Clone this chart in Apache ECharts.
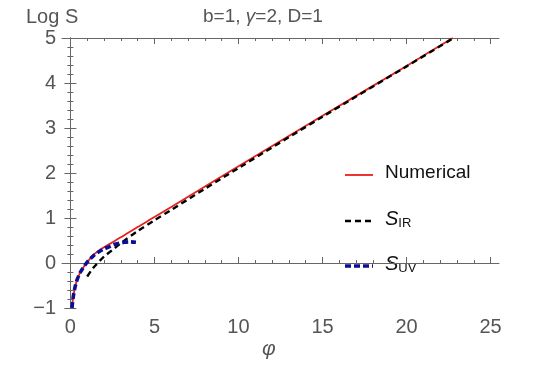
<!DOCTYPE html>
<html>
<head>
<meta charset="utf-8">
<script src="https://cdn.jsdelivr.net/npm/echarts@6/dist/echarts.min.js"></script>
<style>
  html, body { margin: 0; padding: 0; background: #fff; }
  #chart { width: 540px; height: 373px; }
</style>
</head>
<body>
<div id="chart"></div>
<script>
// values
const numerical = [
  [0.095, -1], [0.12, -0.9], [0.15, -0.8], [0.2, -0.68], [0.25, -0.58], [0.3, -0.5],
  [0.4, -0.37], [0.5, -0.28], [0.6, -0.2], [0.75, -0.11], [0.9, -0.03], [1.0, 0.02],
  [1.2, 0.11], [1.4, 0.19], [1.7, 0.28], [2.0, 0.35], [2.5, 0.46], [3, 0.57],
  [4, 0.8], [5, 1.02], [7, 1.47], [10, 2.15], [15, 3.27], [20, 4.38], [22.75, 5.0]
];
const sIR = [
  [1.0, -0.3], [1.25, -0.16], [1.5, -0.05], [2.0, 0.14], [2.5, 0.29], [3, 0.44],
  [4, 0.71], [5, 0.95], [6, 1.18], [8, 1.65], [10, 2.11], [15, 3.25], [20, 4.37], [22.8, 5.0]
];
const sUV = [
  [0.095, -1], [0.12, -0.9], [0.15, -0.8], [0.2, -0.68], [0.25, -0.58], [0.3, -0.5],
  [0.4, -0.37], [0.5, -0.28], [0.6, -0.2], [0.75, -0.11], [0.9, -0.03], [1.0, 0.02],
  [1.2, 0.1], [1.4, 0.17], [1.7, 0.25], [2.0, 0.31], [2.3, 0.36], [2.6, 0.41],
  [2.9, 0.44], [3.2, 0.46], [3.5, 0.47], [3.9, 0.46]
];
const xMajor = [0, 5, 10, 15, 20, 25];
const xMinor = [0, 1, 2, 3, 4, 5, 6, 7, 8, 9, 10, 11, 12, 13, 14, 15, 16, 17, 18, 19, 20, 21, 22, 23, 24, 25];

const frame = '#666';
const labelColor = '#555';
const font = 'Liberation Sans';
const red = '#e8201c', black = '#000', blue = '#0a0f96';

function xAx(pos, major, withLabels) {
  return {
    type: 'value', position: pos, min: -0.5, max: 25.5,
    axisLine: { show: major, lineStyle: { color: frame, width: 1 } },
    axisTick: { show: true, inside: true, length: major ? 6 : 3, customValues: major ? xMajor : xMinor,
      lineStyle: { color: frame } },
    axisLabel: withLabels
      ? { show: true, customValues: xMajor, fontSize: 20, color: labelColor, margin: 9, fontFamily: font }
      : { show: false },
    splitLine: { show: false }
  };
}

function yAx(pos, withLabels) {
  return {
    type: 'value', position: pos, min: -1, max: 5, interval: 1,
    axisLine: { show: true, lineStyle: { color: frame, width: 1 } },
    axisTick: { show: true, inside: true, length: 6, lineStyle: { color: frame } },
    minorTick: { show: true, splitNumber: 5, length: 3, lineStyle: { color: frame } },
    axisLabel: withLabels
      ? { show: true, fontSize: 20, color: labelColor, margin: 6, fontFamily: font,
          formatter: v => (v < 0 ? '\u2212' + Math.abs(v) : String(v)) }
      : { show: false },
    splitLine: { show: false }
  };
}

// legend drawn by hand: short line sample + label
function legendRow(y, color, width, dash, label) {
  return [
    { type: 'line', shape: { x1: 345, y1: y, x2: 373, y2: y },
      style: { stroke: color, lineWidth: width, lineDash: dash } },
    { type: 'text', left: 385, top: y - 12,
      style: { text: label, fontSize: 19, fill: '#111', fontFamily: font,
        rich: {
          s: { fontSize: 20, fontStyle: 'italic', fill: '#111', fontFamily: font },
          sub: { fontSize: 13, fill: '#111', fontFamily: font, padding: [9, 0, 0, 0] }
        } } }
  ];
}

const chart = echarts.init(document.getElementById('chart'), null, { renderer: 'canvas' });
chart.setOption({
  backgroundColor: '#fff',
  animation: false,
  grid: { left: 62, right: 41, top: 38, bottom: 65 },
  title: [
    { text: 'Log S', left: 21, top: 2,
      textStyle: { fontSize: 20, fontWeight: 'normal', color: labelColor, fontFamily: font } },
    { text: 'b=1, {g|γ}=2, D=1', left: 198, top: 2,
      textStyle: { fontSize: 19, fontWeight: 'normal', color: labelColor, fontFamily: font,
        rich: { g: { fontSize: 19, fontStyle: 'italic', color: labelColor, fontFamily: font } } } }
  ],
  graphic: [
    { type: 'text', left: 262, top: 339,
      style: { text: 'φ', fontSize: 21, fontStyle: 'italic', fill: labelColor, fontFamily: font } },
    ...legendRow(175, red, 1.8, null, 'Numerical'),
    ...legendRow(221, black, 2.4, [6, 4], '{s|S}{sub|IR}'),
    ...legendRow(266, blue, 3.6, [6, 3], '{s|S}{sub|UV}')
  ],
  xAxis: [xAx('bottom', true, true), xAx('bottom', false, false), xAx('top', true, false), xAx('top', false, false)],
  yAxis: [yAx('left', true), yAx('right', false)],
  series: [
    { name: 'Numerical', type: 'line', data: numerical, showSymbol: false, symbol: 'none', smooth: 0.3,
      lineStyle: { color: red, width: 1.8 } },
    { name: 'SIR', type: 'line', data: sIR, showSymbol: false, symbol: 'none', smooth: 0.3,
      lineStyle: { color: black, width: 2.4, type: [6, 4] } },
    { name: 'SUV', type: 'line', data: sUV, showSymbol: false, symbol: 'none', smooth: 0.3,
      lineStyle: { color: blue, width: 3.6, type: [6, 3] } }
  ]
});
</script>
</body>
</html>
